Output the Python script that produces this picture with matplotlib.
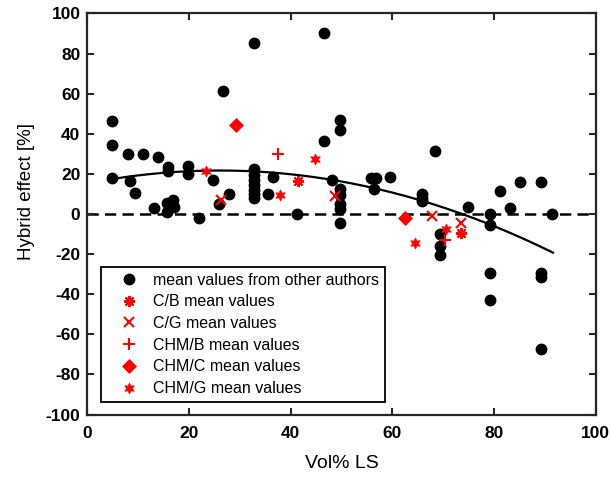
import numpy as np
import matplotlib
matplotlib.use('Agg')
import matplotlib.pyplot as plt

plt.rcParams['font.family'] = ['Liberation Sans', 'DejaVu Sans']
plt.rcParams['axes.unicode_minus'] = False

# mean values from other authors
other_x = [4.9, 4.9, 4.8, 7.9, 10.9, 13.8, 8.3, 9.3, 15.9, 15.9, 13.2, 15.7, 16.8, 17.0, 15.7,
           19.7, 19.7, 21.9, 24.7, 26.7, 27.8, 25.9, 32.7,
           32.7, 32.7, 32.7, 32.7, 32.7, 32.7, 32.7,
           36.6, 35.6, 41.2, 46.5, 46.5, 48.1, 49.6, 49.6, 49.6, 49.6, 49.6, 49.6, 49.6,
           55.8, 56.7, 56.3, 59.6, 65.8, 65.8, 65.8, 68.4, 69.4, 69.4, 69.4, 74.9,
           79.3, 79.3, 79.3, 79.3, 81.2, 83.2, 85.2, 89.2, 89.2, 89.2, 89.2, 91.4]
other_y = [46.5, 34.5, 17.8, 29.8, 29.8, 28.5, 16.5, 10.3, 23.2, 21.2, 2.8, 5.7, 6.8, 3.5, 1.0,
           23.7, 19.8, -1.8, 16.8, 61.2, 10.2, 5.2, 85.2,
           22.3, 19.5, 17.0, 14.5, 12.0, 10.0, 8.2,
           18.5, 10.2, -0.2, 90.2, 36.5, 16.8, 47.0, 41.8, 12.3, 9.5, 5.0, 2.3, -4.3,
           18.2, 18.2, 12.3, 18.5, 9.8, 8.0, 6.5, 31.5, -10.2, -16.0, -20.2, 3.5,
           0.2, -5.7, -29.3, -43.0, 11.5, 2.8, 16.0, 16.0, -29.3, -31.5, -67.2, 0.2]

cb_x = [41.4, 73.4]
cb_y = [16.5, -9.3]
cg_x = [26.2, 48.7, 67.8, 73.5]
cg_y = [6.8, 9.0, -0.8, -4.7]
chmb_x = [37.5, 70.3]
chmb_y = [29.8, -13.0]
chmc_x = [29.3, 62.4]
chmc_y = [44.5, -1.8]
chmg_x = [23.4, 37.8, 44.8, 64.4, 70.6]
chmg_y = [21.5, 9.3, 27.5, -14.5, -7.7]

# quadratic trend: c0 + c1*x + c2*x^2
fit_coef = [15.26, 0.495, -0.00952]
fit_range = [5, 91.6]

red = '#ff0000'

fig = plt.figure(figsize=(6.11, 4.82), dpi=100)
ax = fig.add_axes([0.143, 0.14, 0.832, 0.832])

ax.axhline(0, color='black', lw=1.8, ls=(0, (4.5, 2.5)), zorder=1)
xf = np.linspace(fit_range[0], fit_range[1], 200)
ax.plot(xf, fit_coef[0] + fit_coef[1] * xf + fit_coef[2] * xf ** 2, color='black', lw=1.6, zorder=2)

ax.plot(other_x, other_y, 'o', color='black', ms=7.5, mec='black', ls='none',
        label='mean values from other authors', zorder=3)
ax.plot(cb_x, cb_y, marker=(8, 2, 0), color=red, ms=8, mew=1.4, ls='none',
        label='C/B mean values', zorder=4)
ax.plot(cg_x, cg_y, 'x', color=red, ms=7, mew=1.5, ls='none',
        label='C/G mean values', zorder=4)
ax.plot(chmb_x, chmb_y, '+', color=red, ms=9, mew=1.5, ls='none',
        label='CHM/B mean values', zorder=4)
ax.plot(chmc_x, chmc_y, 'D', color=red, ms=7, mew=0.5, ls='none',
        label='CHM/C mean values', zorder=4)
ax.plot(chmg_x, chmg_y, marker=(6, 1, 0), color=red, ms=8, mew=0.5, ls='none',
        label='CHM/G mean values', zorder=4)

ax.set_xlim(0, 100)
ax.set_ylim(-100, 100)
ax.set_xticks(range(0, 101, 20))
ax.set_yticks(range(-100, 101, 20))
ax.tick_params(direction='in', length=5, width=1.5, top=True, right=True,
               labelsize=12.5, colors='#262626', labelcolor='black', pad=5)
ax.tick_params(axis='x', pad=8)
for lab in ax.get_xticklabels() + ax.get_yticklabels():
    lab.set_fontweight('bold')
for s in ax.spines.values():
    s.set_linewidth(1.6)
    s.set_color('#262626')

ax.set_xlabel('Vol% LS', fontsize=14, labelpad=10)
ax.set_ylabel('Hybrid effect [%]', fontsize=13.5)
ax.yaxis.set_label_coords(-0.103, 0.557)

leg = ax.legend(loc='lower left', bbox_to_anchor=(0.026, 0.032), fontsize=11.5,
                frameon=True, fancybox=False, edgecolor='black', framealpha=1,
                borderpad=0.35, labelspacing=0.42, handletextpad=0.15, handlelength=2.8,
                borderaxespad=0)
leg.get_frame().set_linewidth(1.3)

fig.savefig('out.png', dpi=100)
